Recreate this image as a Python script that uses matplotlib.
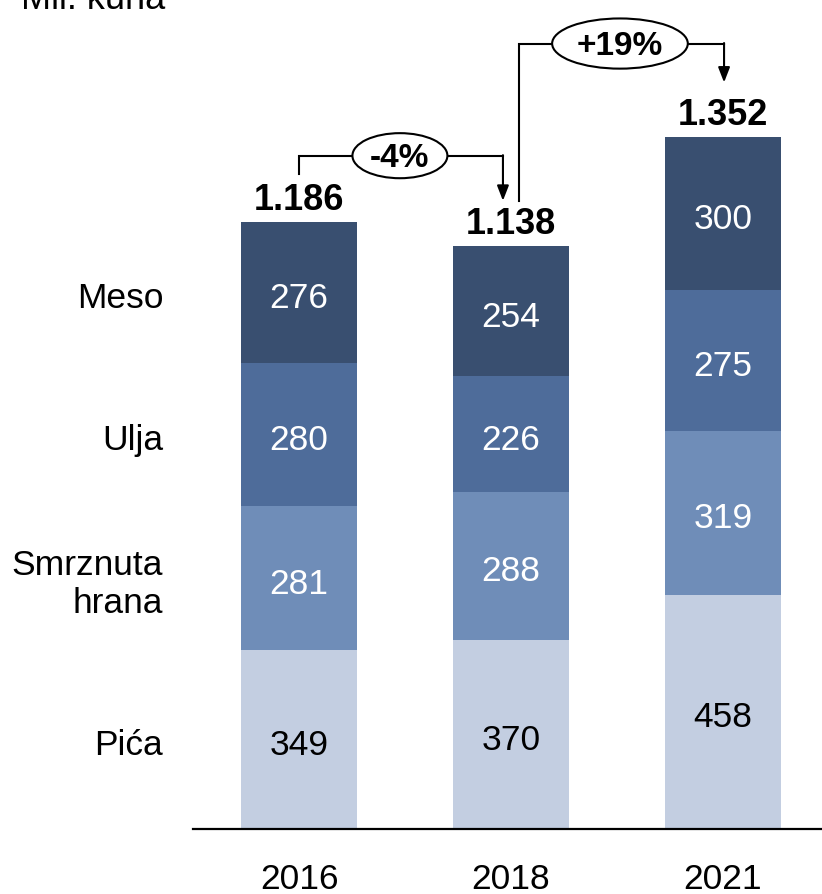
import numpy as np
import matplotlib.pyplot as plt
from matplotlib.patches import Ellipse

plt.rcParams['font.family'] = ['Liberation Sans', 'DejaVu Sans']

# Data
years = ['2016', '2018', '2021']
categories = ['Pića', 'Smrznuta\nhrana', 'Ulja', 'Meso']
pica = [349, 370, 458]
smrznuta = [281, 288, 319]
ulja = [280, 226, 275]
meso = [276, 254, 300]
totals = ['1.186', '1.138', '1.352']
changes = ['-4%', '+19%']

series = [pica, smrznuta, ulja, meso]
colors = ['#C3CEE1', '#6F8DB8', '#4E6C9A', '#394F70']
text_colors = ['black', 'white', 'white', 'white']

fig = plt.figure(figsize=(8.22, 8.95), dpi=100)
ax = fig.add_axes([0.2348, 0.0726, 0.7652, 0.9274])

# text looks a bit low in the original, nudge it down
dy = -10

x = np.arange(len(years))
bottom = np.zeros(len(years))
for vals, col, tcol in zip(series, colors, text_colors):
    vals = np.array(vals)
    ax.bar(x, vals, width=0.55, bottom=bottom, color=col)
    for xi, b, v in zip(x, bottom, vals):
        ax.text(xi, b + v / 2 + dy, str(v), ha='center', va='center',
                fontsize=25.5, color=tcol)
    bottom += vals

# category labels next to the first bar
b = 0
for vals, name in zip(series, categories):
    ax.text(-0.64, b + vals[0] / 2 + dy, name, ha='right', va='center',
            fontsize=25.5, linespacing=1.2, clip_on=False)
    b += vals[0]

# totals
for xi, top, t in zip(x, bottom, totals):
    ax.text(xi, top + 10, t, ha='center', va='bottom', fontsize=26,
            fontweight='bold')

# change brackets
def bracket(x0, y0, ymid, x1, y1, label, ew, eh, cx):
    ax.plot([x0, x0, x1], [y0, ymid, ymid], color='black', lw=1.5,
            clip_on=False, solid_joinstyle='miter')
    ax.annotate('', xy=(x1, y1), xytext=(x1, ymid + 1),
                arrowprops=dict(arrowstyle='-|>,head_length=0.9,head_width=0.35',
                                color='black', lw=1.5, shrinkA=0, shrinkB=0),
                annotation_clip=False)
    ax.add_patch(Ellipse((cx, ymid), ew, eh, facecolor='white',
                         edgecolor='black', lw=1.5, clip_on=False, zorder=3))
    ax.text(cx, ymid - 4, label, ha='center', va='center', fontsize=24,
            fontweight='bold', zorder=4)

bracket(0.0, 1280, 1315, 0.962, 1227, changes[0], 0.448, 88, 0.476)
bracket(1.036, 1227, 1534, 2.005, 1458, changes[1], 0.64, 98, 1.514)

ax.set_xlim(-0.5, 2.467)
ax.set_ylim(0, 1621)
ax.set_xticks(x)
ax.set_xticklabels(years, fontsize=25.5)
ax.tick_params(axis='x', length=0, pad=24)
ax.set_yticks([])
for s in ['top', 'right', 'left']:
    ax.spines[s].set_visible(False)
ax.spines['bottom'].set_linewidth(1.6)

# unit label, cut off by the top edge like in the original
fig.text(0.025, 1 - 9 / 895, 'Mil. kuna', fontsize=26, va='baseline')

fig.savefig('out.png', dpi=100)
